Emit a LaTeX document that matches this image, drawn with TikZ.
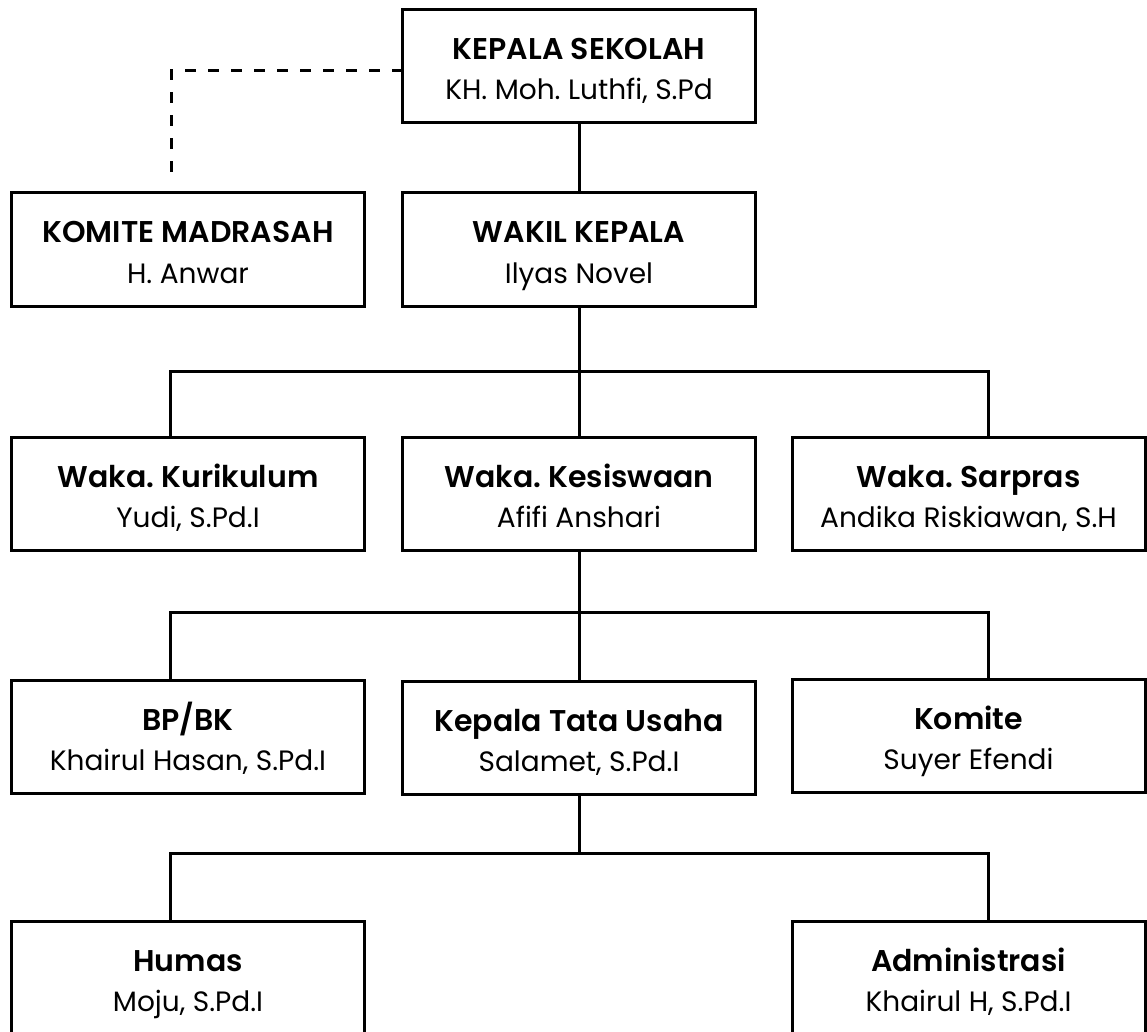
\documentclass[tikz,border=0pt]{standalone}
\usepackage{fontspec}
\setmainfont{Poppins}[BoldFont={Poppins SemiBold}]
\frenchspacing
\tikzset{
  orgbox/.style={draw, line width=3pt, rectangle, minimum width=353pt, inner sep=0pt, outer sep=0pt},
  ttl/.style={font=\bfseries\fontsize{30}{34}\selectfont, anchor=base, inner sep=0pt},
  sub/.style={font=\fontsize{28}{32}\selectfont, anchor=base, inner sep=0pt},
  link/.style={line width=3pt},
  dlink/.style={line width=3pt, dash pattern=on 11pt off 12pt},
}
\newcommand\orgunit[6]{%
  \node[orgbox, minimum height=#4pt] (#1) at (#2,#3) {};
  \node[ttl] (#1-t) at ([yshift=-50pt]#1.north) {#5};
  \node[sub] (#1-s) at ([yshift=-90pt]#1.north) {#6};
}
\begin{document}
\begin{tikzpicture}[x=1pt,y=-1pt]
\clip (0,0) rectangle (1147,1032);
\fill[white] (0,0) rectangle (1147,1032);
\orgunit{ks}{579}{66.5}{113}{KEPALA SEKOLAH}{KH. Moh. Luthfi, S.Pd}
\orgunit{km}{188}{249.5}{113}{KOMITE MADRASAH}{H. Anwar}
\orgunit{wk}{579}{249.5}{113}{WAKIL KEPALA}{Ilyas Novel}
\orgunit{kur}{188}{493.5}{113}{Waka. Kurikulum}{Yudi, S.Pd.I}
\orgunit{kes}{579}{493.5}{113}{Waka. Kesiswaan}{Afifi Anshari}
\orgunit{sar}{968.5}{493.5}{113}{Waka. Sarpras}{Andika Riskiawan, S.H}
\orgunit{bp}{188}{737}{113}{BP/BK}{Khairul Hasan, S.Pd.I}
\orgunit{ktu}{579}{738}{113}{Kepala Tata Usaha}{Salamet, S.Pd.I}
\orgunit{kom}{968.5}{736}{113}{Komite}{Suyer Efendi}
\orgunit{hum}{188}{980.5}{119}{Humas}{Moju, S.Pd.I}
\orgunit{adm}{968.5}{980.5}{119}{Administrasi}{Khairul H, S.Pd.I}
\coordinate (j1) at (579,371);
\coordinate (j2) at (579,612);
\coordinate (j3) at (579,853);
\draw[link] (ks.south) -- (wk.north);
\draw[link] (wk.south) -- (kes.north);
\draw[link] ([xshift=-18pt]kur.north) |- (j1) -| ([xshift=19.5pt]sar.north);
\draw[link] (kes.south) -- (ktu.north);
\draw[link] ([xshift=-18pt]bp.north) |- (j2) -| ([xshift=19.5pt]kom.north);
\draw[link] (ktu.south) -- (j3);
\draw[link] ([xshift=-18pt]hum.north) |- (j3) -| ([xshift=19.5pt]adm.north);
\draw[dlink] ([yshift=-4.5pt]ks.west) -| ([xshift=-17pt,yshift=12pt]km.north);
\end{tikzpicture}
\end{document}
